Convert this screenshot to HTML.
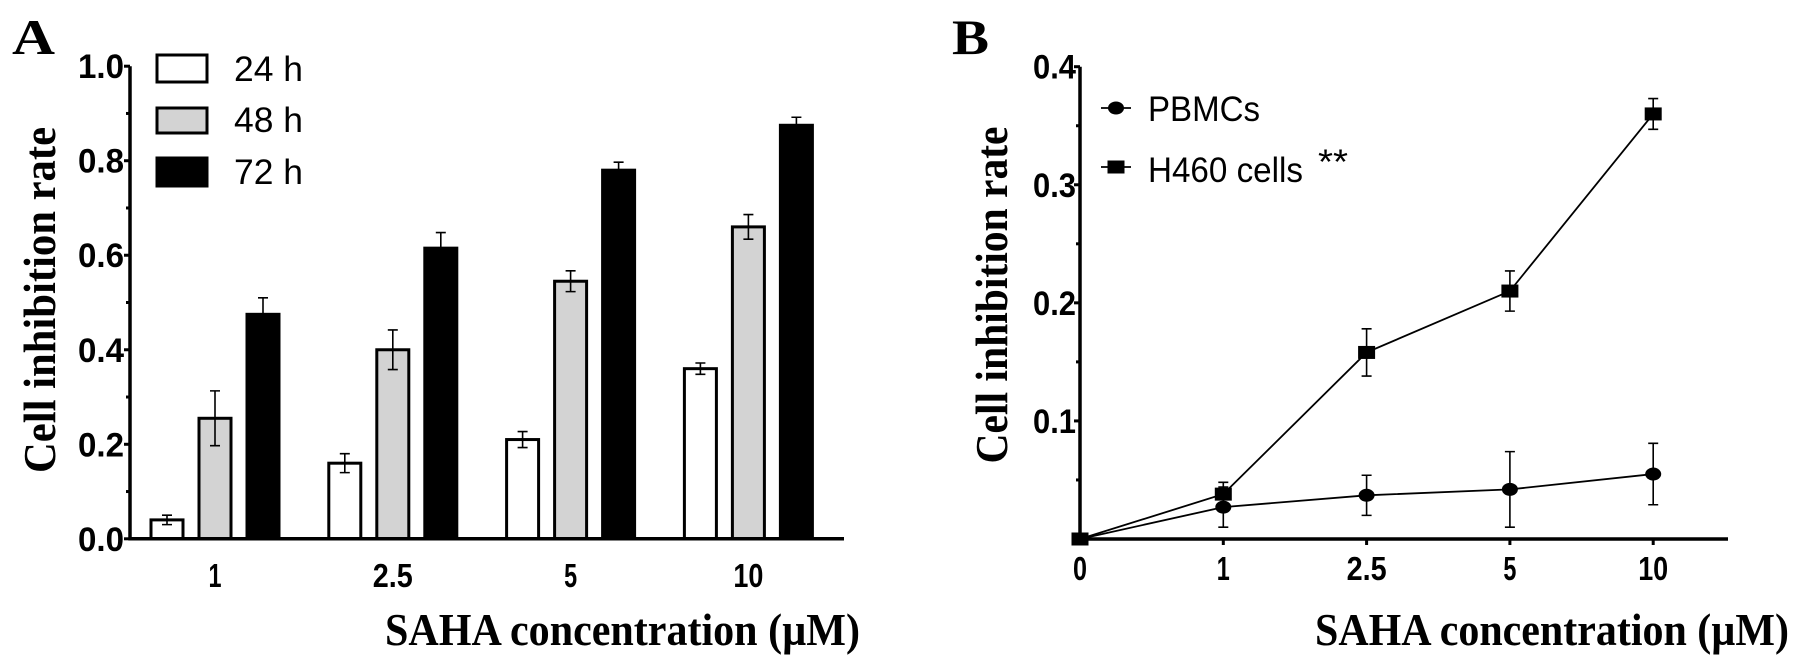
<!DOCTYPE html>
<html><head><meta charset="utf-8"><style>
html,body{margin:0;padding:0;background:#fff;}
svg{display:block;}
</style></head><body>
<svg id="c" width="1795" height="659" viewBox="0 0 1795 659" xmlns="http://www.w3.org/2000/svg"></svg>
<script>
// Panel A data
const catsA = ["1","2.5","5","10"];
const seriesNamesA = ["24 h","48 h","72 h"];
const v24 = [0.04,0.16,0.21,0.36];
const v48 = [0.255,0.40,0.545,0.66];
const v72 = [0.475,0.615,0.78,0.875];
const e24 = [0.01,0.02,0.017,0.012];
const e48 = [0.058,0.042,0.022,0.026];
const e72 = [0.035,0.033,0.017,0.017];
const yTicksA = ["0.0","0.2","0.4","0.6","0.8","1.0"];
// Panel B data
const catsB = ["0","1","2.5","5","10"];
const pbmc = [0,0.027,0.037,0.042,0.055];
const pbmcErr = [0,0.017,0.017,0.032,0.026];
const h460 = [0,0.038,0.158,0.21,0.36];
const h460Err = [0,0.01,0.02,0.017,0.013];
const yTicksB = ["0.1","0.2","0.3","0.4"];

const NS="http://www.w3.org/2000/svg";
const svg=document.getElementById('c');
function mk(tag,attrs,parent){const e=document.createElementNS(NS,tag);for(const k in attrs)e.setAttribute(k,attrs[k]);(parent||svg).appendChild(e);return e;}
function txt(s,x,y,size,opts,parent){
  const e=mk('text',{x:x,y:y,'font-size':size,'font-family':opts.serif?'"Liberation Serif",serif':'"Liberation Sans",sans-serif','font-weight':opts.bold?'bold':'normal','text-anchor':opts.anchor||'start',fill:'#000'},parent);
  if(opts.len){e.setAttribute('textLength',opts.len);e.setAttribute('lengthAdjust','spacingAndGlyphs');}
  if(opts.rot)e.setAttribute('transform','rotate(-90 '+x+' '+y+')');
  e.textContent=s;return e;
}

// ---------- Panel A ----------
const A={x0:130,x1:844,y0:538.8,yTop:66.2,max:1.0};
const yA=v=>A.y0-(v/A.max)*(A.y0-A.yTop);
const grpA=i=>215+i*177.8;
const gA=mk('g',{});


let t=txt('A',12,54,50,{serif:true,bold:true,len:43},gA);

const vals=[v24,v48,v72],errs=[e24,e48,e72],fills=['#fff','#d3d3d3','#000'],offs=[-48,0,48];
const bw=32;
for(let s=0;s<3;s++){for(let i=0;i<catsA.length;i++){
  const cx=grpA(i)+offs[s],top=yA(vals[s][i]);
  const r=mk('rect',{x:cx-bw/2,y:top,width:bw,height:A.y0-top,fill:fills[s],stroke:'#000','stroke-width':3},gA);
  
  
  const eh=yA(vals[s][i]+errs[s][i]),el=yA(vals[s][i]-errs[s][i]);
  const p=mk('path',{d:`M${cx},${eh}V${el}M${cx-5},${eh}H${cx+5}M${cx-5},${el}H${cx+5}`,stroke:'#000','stroke-width':1.6,fill:'none'},gA);
  
}}
let ax=mk('path',{d:`M${A.x0},${A.yTop}V${A.y0}H${A.x1}`,stroke:'#000','stroke-width':3.5,fill:'none'},gA);

for(let k=0;k<=10;k++){const v=k*0.1,y=yA(v);
  mk('line',{x1:A.x0-(k%2?4:6),x2:A.x0,y1:y,y2:y,stroke:'#000','stroke-width':3},gA);}
yTicksA.forEach((s,k)=>{const y=yA(parseFloat(s));
  const e=txt(s,124,y+12,34,{bold:true,anchor:'end',len:46},gA);
  });
catsA.forEach((s,i)=>{const e=txt(s,grpA(i),587,33,{bold:true,anchor:'middle',len:[13,40,13,30][i]},gA);
  });
t=txt('SAHA concentration (µM)',385,645,46,{serif:true,bold:true,len:475},gA);

t=txt('Cell inhibition rate',55,300,46,{serif:true,bold:true,anchor:'middle',len:346,rot:true},gA);

const legY=[[55,82,81],[108,133,132],[158,186,184]];
for(let s=0;s<3;s++){
  const r=mk('rect',{x:157,y:legY[s][0],width:50,height:legY[s][1]-legY[s][0],fill:fills[s],stroke:'#000','stroke-width':3},gA);
  
  const e=txt(seriesNamesA[s],234,legY[s][2],35,{len:69},gA);
  
}

// ---------- Panel B ----------
const B={x0:1080,x1:1728,y0:539,yTop:66.7,max:0.4};
const yB=v=>B.y0-(v/B.max)*(B.y0-B.yTop);
const xB=i=>1080+i*143.3;
const gB=mk('g',{});


t=txt('B',952,54,50,{serif:true,bold:true,len:37},gB);

ax=mk('path',{d:`M${B.x0},${B.yTop}V${B.y0}H${B.x1}`,stroke:'#000','stroke-width':3.5,fill:'none'},gB);

for(let k=1;k<=8;k++){const y=yB(k*0.05);
  mk('line',{x1:B.x0-(k%2?4:6),x2:B.x0,y1:y,y2:y,stroke:'#000','stroke-width':3},gB);}
catsB.forEach((s,i)=>{mk('line',{x1:xB(i),x2:xB(i),y1:B.y0,y2:B.y0+6,stroke:'#000','stroke-width':3},gB);
  const e=txt(s,xB(i),580,33,{bold:true,anchor:'middle',len:[14,13,40,13,30][i]},gB);
  });
yTicksB.forEach(s=>{const y=yB(parseFloat(s));
  const e=txt(s,1076,y+12,34,{bold:true,anchor:'end',len:43},gB);
  });
t=txt('SAHA concentration (µM)',1315,645,46,{serif:true,bold:true,len:474},gB);

t=txt('Cell inhibition rate',1007,295,46,{serif:true,bold:true,anchor:'middle',len:337,rot:true},gB);

function series(vals,errs,name,square){
  const g=mk('g',{},gB);
  
  
  const l=mk('polyline',{points:vals.map((v,i)=>xB(i)+','+yB(v)).join(' '),fill:'none',stroke:'#000','stroke-width':1.8},g);
  
  vals.forEach((v,i)=>{
    if(errs[i]>0){const x=xB(i),h=yB(v+errs[i]),lo=yB(v-errs[i]);
      const p=mk('path',{d:`M${x},${h}V${lo}M${x-5},${h}H${x+5}M${x-5},${lo}H${x+5}`,stroke:'#000','stroke-width':1.6,fill:'none'},g);
      }
    const m=square?mk('rect',{x:xB(i)-8.5,y:yB(v)-6.5,width:17,height:13,fill:'#000'},g)
                   :mk('ellipse',{cx:xB(i),cy:yB(v),rx:8,ry:6.5,fill:'#000'},g);
    
    
  });
}
series(pbmc,pbmcErr,'pbmcs',false);
series(h460,h460Err,'h460',true);
mk('line',{x1:1101,x2:1131,y1:108,y2:108,stroke:'#000','stroke-width':1.8},gB);
let m=mk('ellipse',{cx:1116,cy:108,rx:8,ry:6.5,fill:'#000'},gB);

t=txt('PBMCs',1148,121,35,{len:112},gB);

mk('line',{x1:1101,x2:1131,y1:167,y2:167,stroke:'#000','stroke-width':1.8},gB);
m=mk('rect',{x:1107.5,y:160.5,width:17,height:13,fill:'#000'},gB);

t=txt('H460 cells',1148,182,35,{len:155},gB);

t=txt('**',1318,174,35,{len:30},gB);

</script>
</body></html>
